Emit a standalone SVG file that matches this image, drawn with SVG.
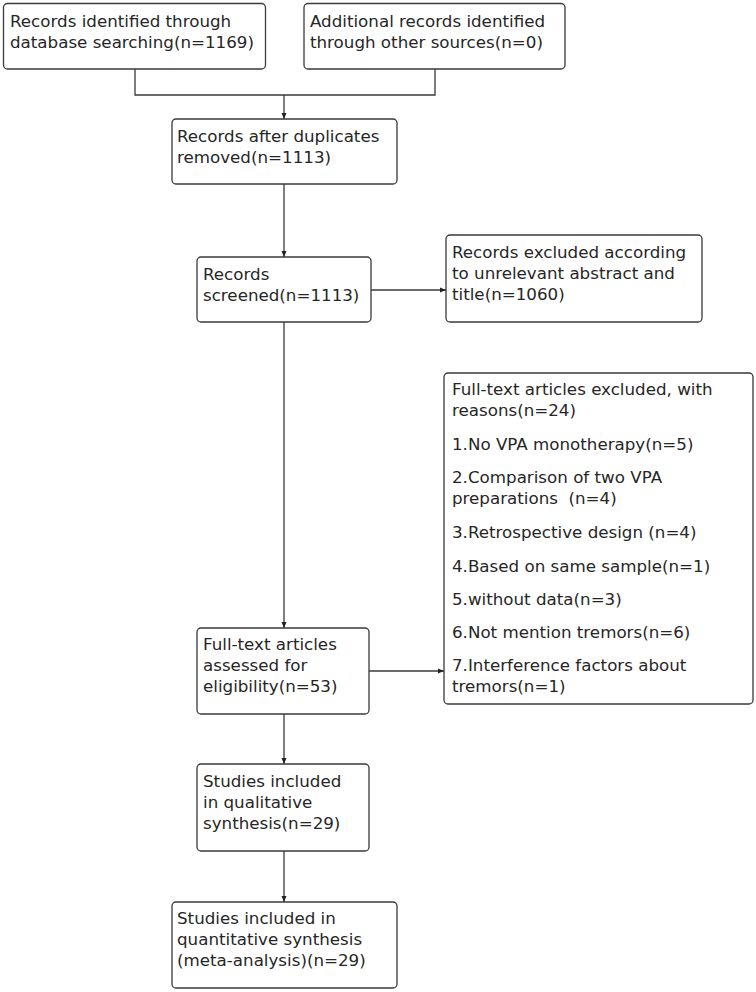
<svg xmlns="http://www.w3.org/2000/svg" width="756" height="992" viewBox="0 0 756 992">
<style>
.box{fill:#fff;stroke:#3a3a3a;stroke-width:1.3}
.t{font-family:"DejaVu Sans","Noto Sans",sans-serif;font-size:16.7px;fill:#262626}
.c{fill:none;stroke:#3a3a3a;stroke-width:1.3}
</style>
<defs>
<marker id="ah" markerWidth="6" markerHeight="6" refX="6" refY="3" orient="auto" markerUnits="userSpaceOnUse">
<path d="M0,0.5 L6,3 L0,5.5 z" fill="#222"/>
</marker>
</defs>
<rect width="756" height="992" fill="#fff"/>
<g id="connectors">
<path class="c" d="M135,69 V95 H435 V69"/>
<path class="c" d="M284,95 V119" marker-end="url(#ah)"/>
<path class="c" d="M284,184 V257" marker-end="url(#ah)"/>
<path class="c" d="M371,290 H446" marker-end="url(#ah)"/>
<path class="c" d="M284,322 V628" marker-end="url(#ah)"/>
<path class="c" d="M369,671 H444" marker-end="url(#ah)"/>
<path class="c" d="M284,714 V764" marker-end="url(#ah)"/>
<path class="c" d="M284,851 V902" marker-end="url(#ah)"/>
</g>
<g id="n1">
<rect class="box" x="3.5" y="3.5" width="262" height="65.5" rx="4"/>
<text class="t" x="10" y="27">Records identified through</text>
<text class="t" x="10" y="48">database searching(n=1169)</text>
</g>
<g id="n2">
<rect class="box" x="304" y="3.5" width="261" height="65.5" rx="4"/>
<text class="t" x="310" y="27">Additional records identified</text>
<text class="t" x="310" y="48">through other sources(n=0)</text>
</g>
<g id="n3">
<rect class="box" x="172" y="119" width="225" height="65" rx="4"/>
<text class="t" x="177" y="142">Records after duplicates</text>
<text class="t" x="177" y="163">removed(n=1113)</text>
</g>
<g id="n4">
<rect class="box" x="197" y="257" width="174" height="65" rx="4"/>
<text class="t" x="203" y="280">Records</text>
<text class="t" x="203" y="301">screened(n=1113)</text>
</g>
<g id="n5">
<rect class="box" x="446" y="235" width="256" height="87" rx="4"/>
<text class="t" x="452" y="258">Records excluded according</text>
<text class="t" x="452" y="279">to unrelevant abstract and</text>
<text class="t" x="452" y="300">title(n=1060)</text>
</g>
<g id="n6">
<rect class="box" x="444" y="373" width="309" height="331" rx="4"/>
<text class="t" x="452" y="395">Full-text articles excluded, with</text>
<text class="t" x="452" y="416">reasons(n=24)</text>
<text class="t" x="452" y="450">1.No VPA monotherapy(n=5)</text>
<text class="t" x="452" y="483">2.Comparison of two VPA</text>
<text class="t" x="452" y="504" xml:space="preserve">preparations  (n=4)</text>
<text class="t" x="452" y="538">3.Retrospective design (n=4)</text>
<text class="t" x="452" y="572">4.Based on same sample(n=1)</text>
<text class="t" x="452" y="605">5.without data(n=3)</text>
<text class="t" x="452" y="638">6.Not mention tremors(n=6)</text>
<text class="t" x="452" y="671">7.Interference factors about</text>
<text class="t" x="452" y="692">tremors(n=1)</text>
</g>
<g id="n7">
<rect class="box" x="197" y="628" width="172" height="86" rx="4"/>
<text class="t" x="203" y="650">Full-text articles</text>
<text class="t" x="203" y="671">assessed for</text>
<text class="t" x="203" y="692">eligibility(n=53)</text>
</g>
<g id="n8">
<rect class="box" x="197" y="764" width="172" height="87" rx="4"/>
<text class="t" x="203" y="787">Studies included</text>
<text class="t" x="203" y="808">in qualitative</text>
<text class="t" x="203" y="829">synthesis(n=29)</text>
</g>
<g id="n9">
<rect class="box" x="172" y="902" width="225" height="86" rx="4"/>
<text class="t" x="177" y="924">Studies included in</text>
<text class="t" x="177" y="945">quantitative synthesis</text>
<text class="t" x="177" y="966">(meta-analysis)(n=29)</text>
</g>
</svg>
